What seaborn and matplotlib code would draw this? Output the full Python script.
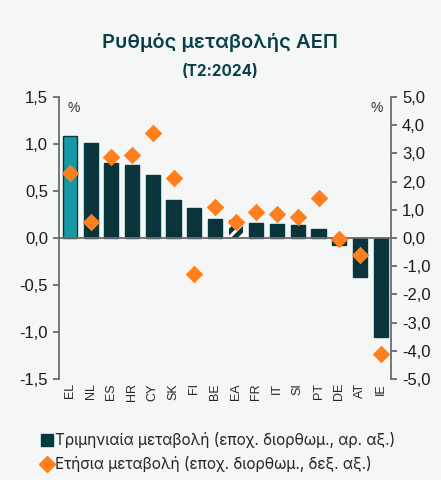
import matplotlib
matplotlib.use('Agg')
import numpy as np
import pandas as pd
import seaborn as sns
from matplotlib import pyplot as plt
from matplotlib.lines import Line2D
from matplotlib.ticker import FuncFormatter, MultipleLocator

# data
countries = ['EL', 'NL', 'ES', 'HR', 'CY', 'SK', 'FI', 'BE', 'EA',
             'FR', 'IT', 'SI', 'PT', 'DE', 'AT', 'IE']
quarterly = [1.08, 1.01, 0.80, 0.78, 0.67, 0.40, 0.32, 0.20, 0.19,
             0.16, 0.15, 0.14, 0.10, -0.07, -0.41, -1.05]
annual = [2.3, 0.55, 2.86, 2.95, 3.71, 2.12, -1.29, 1.1, 0.58,
          0.93, 0.85, 0.76, 1.43, -0.04, -0.6, -4.1]

DARK = '#023a42'
CYAN = '#00abbb'
ORANGE = '#ff7f1c'
BG = '#f5f7f7'
GREY = '#6b6b6b'

df = pd.DataFrame({'country': countries, 'q': quarterly, 'a': annual})
df['pos'] = np.arange(len(df))

sns.set_style('white')
plt.rcParams['font.family'] = ['Liberation Sans', 'DejaVu Sans']
plt.rcParams['hatch.linewidth'] = 2.2

fig = plt.figure(figsize=(4.41, 4.80), dpi=100, facecolor=BG)
ax = fig.add_axes([0.1338, 0.2104, 0.7528, 0.5875], facecolor=BG)

colors = [CYAN if c == 'EL' else DARK for c in countries]
sns.barplot(data=df, x='country', y='q', hue='country', palette=colors,
            legend=False, width=0.68, ax=ax, edgecolor=DARK, linewidth=1.0)
ea = countries.index('EA')
ax.patches[ea].set_hatch('///')
ax.patches[ea].set_edgecolor('white')
ax.patches[ea].set_linewidth(0)

ax.set_ylim(-1.5, 1.5)
ax.set_xlim(-0.53, len(countries) - 0.5)
ax.yaxis.set_major_locator(MultipleLocator(0.5))
fmt = FuncFormatter(lambda v, p: f'{v:.1f}'.replace('.', ','))
ax.yaxis.set_major_formatter(fmt)
ax.axhline(0, color=GREY, lw=1.3, zorder=3)

ax2 = ax.twinx()
sns.scatterplot(data=df, x='pos', y='a', marker='D', color=ORANGE, s=80,
                linewidth=0, ax=ax2, zorder=5)
ax2.set_ylim(-5, 5)
ax2.yaxis.set_major_locator(MultipleLocator(1))
ax2.yaxis.set_major_formatter(fmt)
ax2.set_xlim(-0.53, len(countries) - 0.5)

for a in (ax, ax2):
    a.set_xlabel('')
    a.set_ylabel('')
    for s in ('top', 'bottom'):
        a.spines[s].set_visible(False)
    for s in ('left', 'right'):
        a.spines[s].set_color(GREY)
        a.spines[s].set_linewidth(1.3)
    a.tick_params(axis='y', length=4, width=1.3, color=GREY,
                  labelsize=12, labelcolor='#1a1a1a', pad=4)
ax.spines['right'].set_visible(False)
ax2.spines['left'].set_visible(False)
ax.tick_params(axis='x', length=0, labelsize=9, labelrotation=90, pad=3)
ax2.tick_params(axis='x', bottom=False, labelbottom=False)

ax.text(0.025, 0.985, '%', transform=ax.transAxes, ha='left', va='top',
        fontsize=10, color='#333333')
ax.text(0.975, 0.985, '%', transform=ax.transAxes, ha='right', va='top',
        fontsize=10, color='#333333')

fig.text(0.5, 0.912, 'Ρυθμός μεταβολής ΑΕΠ', ha='center', va='center',
         fontsize=14.5, color='#0b3f48', family=['Inter', 'DejaVu Sans'],
         fontweight='semibold')
fig.text(0.5, 0.852, '(T2:2024)', ha='center', va='center', fontsize=11,
         color='#0b3f48', family=['Inter', 'DejaVu Sans'], fontweight='bold')

handles = [
    Line2D([], [], marker='s', color=DARK, lw=0, markersize=9),
    Line2D([], [], marker='D', color=ORANGE, lw=0, markersize=8),
]
labels = ['Τριμηνιαία μεταβολή (εποχ. διορθωμ., αρ. αξ.)',
          'Ετήσια μεταβολή (εποχ. διορθωμ., δεξ. αξ.)']
fig.legend(handles, labels, loc='upper left', bbox_to_anchor=(0.075, 0.112),
           frameon=False, handletextpad=0.05,
           handlelength=1.0, labelspacing=0.5, borderaxespad=0,
           prop={'family': ['Inter', 'DejaVu Sans'], 'size': 11})

plt.savefig('out.png', dpi=100, facecolor=BG)
